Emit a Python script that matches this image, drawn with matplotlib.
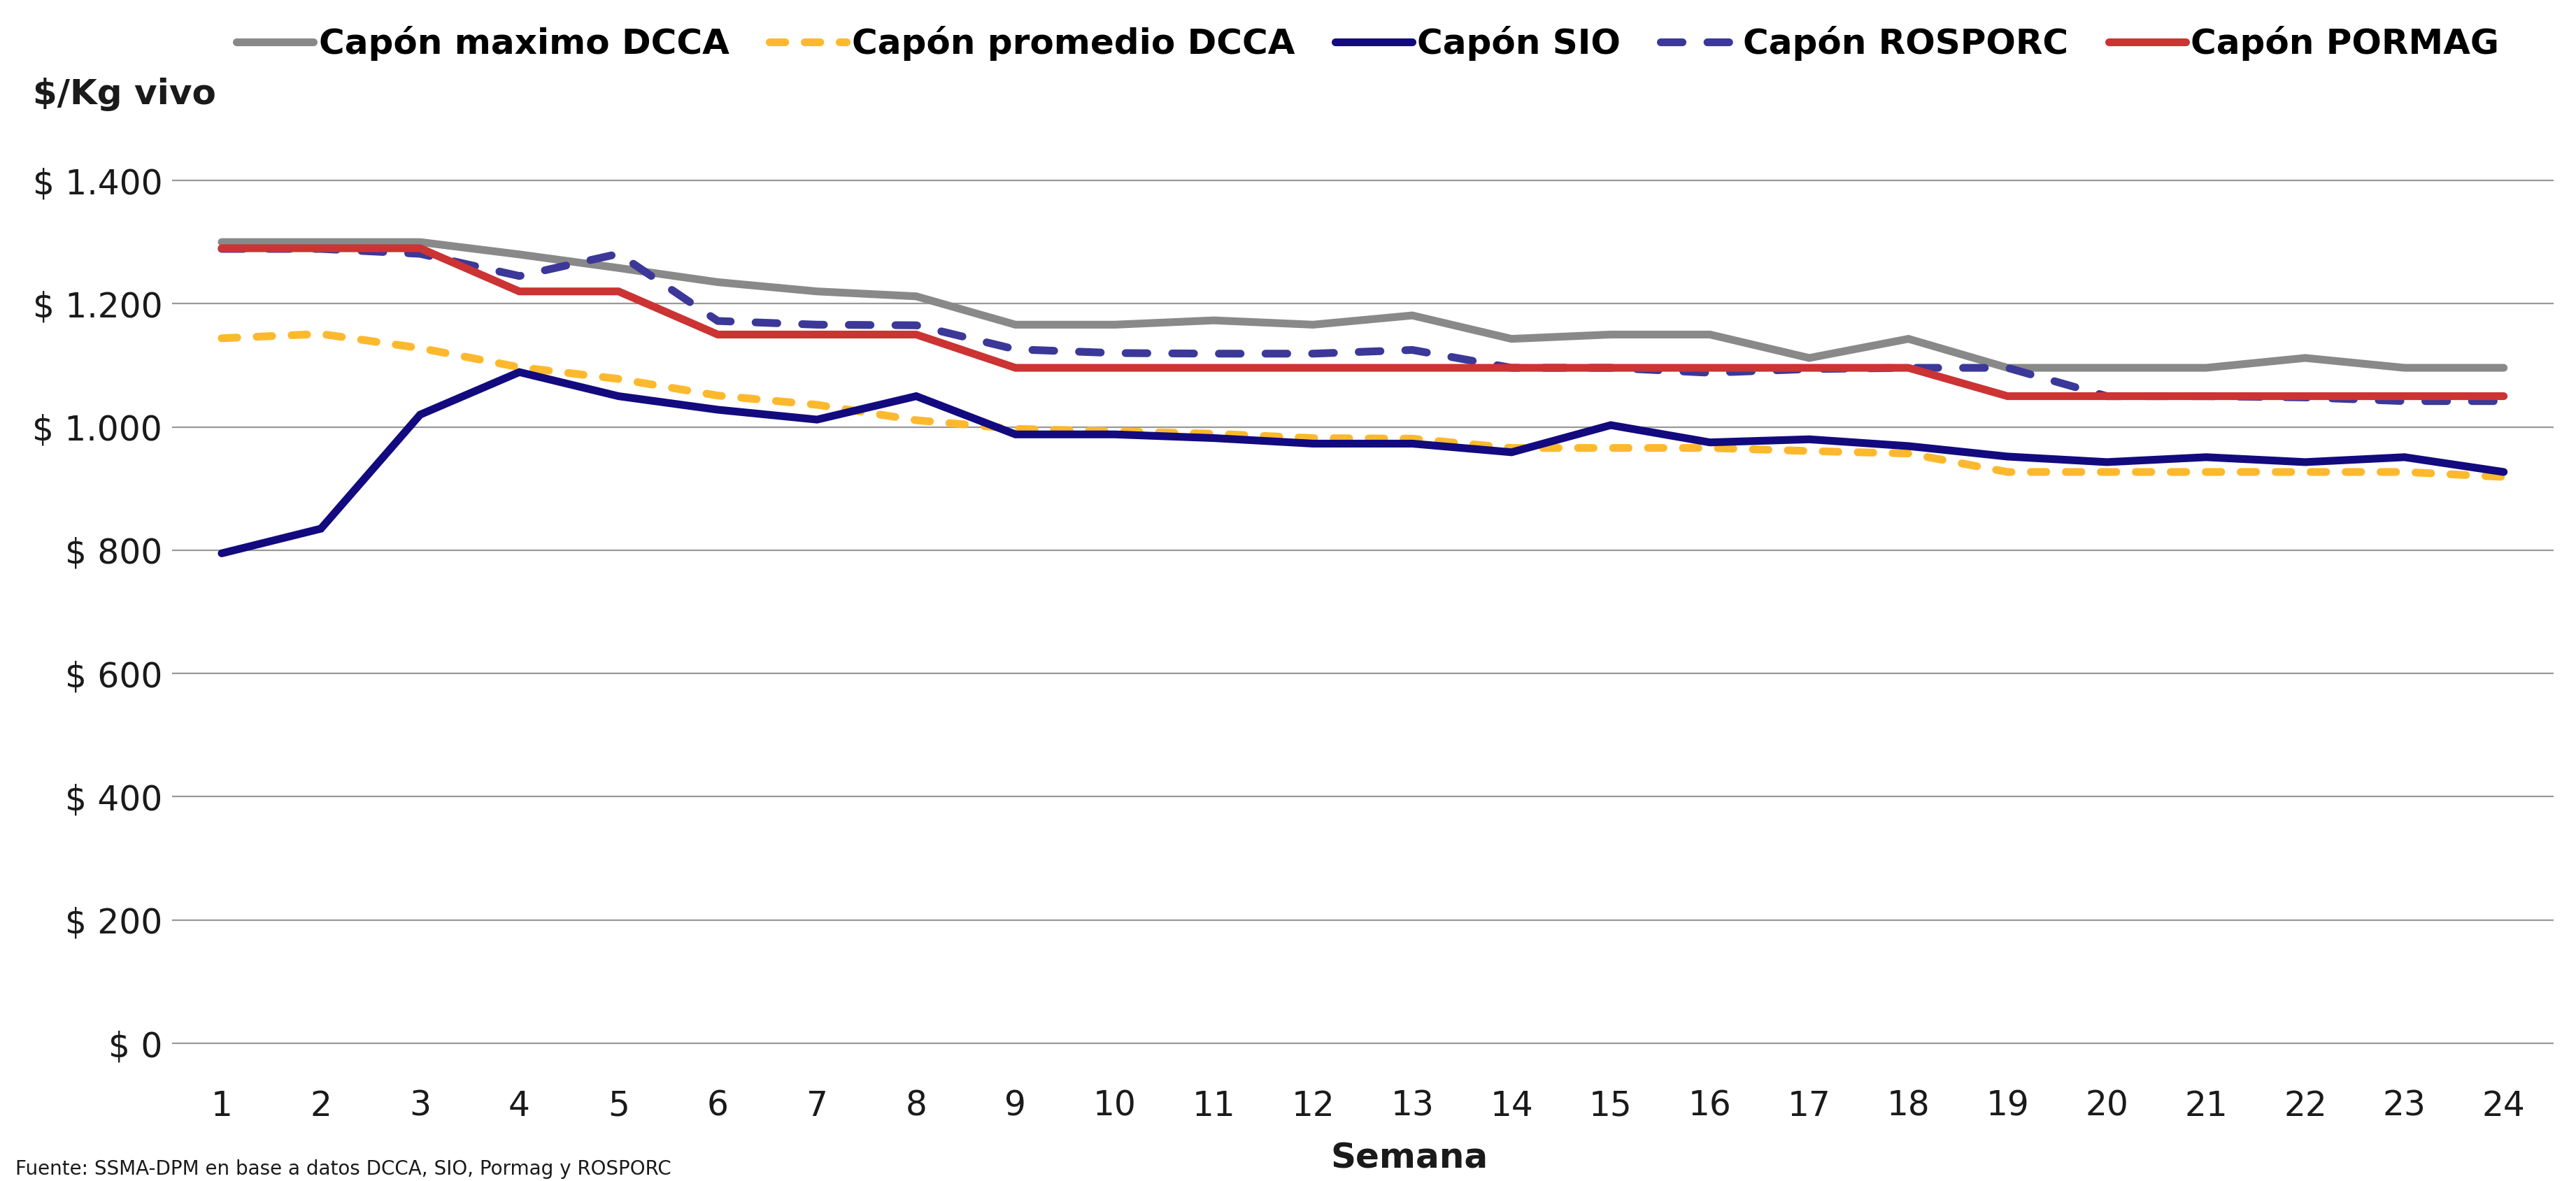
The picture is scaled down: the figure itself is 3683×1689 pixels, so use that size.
import matplotlib.pyplot as plt

# datos semanales ($/Kg vivo)
semanas = list(range(1, 25))
capon_maximo_dcca = [1300, 1300, 1300, 1280, 1258, 1235, 1220, 1212, 1166, 1166, 1173, 1166,
                     1181, 1143, 1150, 1150, 1112, 1143, 1096, 1096, 1096, 1112, 1096, 1096]
capon_promedio_dcca = [1144, 1151, 1128, 1097, 1078, 1051, 1036, 1011, 997, 993, 989, 982,
                       981, 966, 966, 966, 961, 957, 927, 927, 927, 927, 927, 919]
capon_sio = [795, 835, 1020, 1089, 1050, 1028, 1012, 1050, 988, 988, 982, 973,
             973, 959, 1003, 975, 980, 969, 952, 943, 951, 943, 951, 927]
capon_rosporc = [1289, 1289, 1281, 1245, 1281, 1172, 1166, 1165, 1126, 1120, 1119, 1119,
                 1125, 1096, 1096, 1088, 1094, 1096, 1096, 1050, 1050, 1048, 1042, 1042]
capon_pormag = [1290, 1290, 1290, 1220, 1220, 1150, 1150, 1150, 1096, 1096, 1096, 1096,
                1096, 1096, 1096, 1096, 1096, 1096, 1050, 1050, 1050, 1050, 1050, 1050]

y_ticks = [0, 200, 400, 600, 800, 1000, 1200, 1400]
y_labels = ['$ 0', '$ 200', '$ 400', '$ 600', '$ 800', '$ 1.000', '$ 1.200', '$ 1.400']

plt.rcParams['font.family'] = ['DejaVu Sans']

fig = plt.figure(figsize=(36.83, 16.89), dpi=100)
ax = fig.add_axes([0.0668, 0.114, 0.9244, 0.7358])

lw = 8
ax.plot(semanas, capon_maximo_dcca, color='#898989', lw=lw, solid_capstyle='round',
        solid_joinstyle='miter', label='Capón maximo DCCA')
ax.plot(semanas, capon_promedio_dcca, color='#FDB92D', lw=lw, linestyle=(0, (2.0, 2.5)),
        dash_capstyle='round', label='Capón promedio DCCA')
ax.plot(semanas, capon_sio, color='#120A7E', lw=lw, solid_capstyle='round',
        solid_joinstyle='miter', label='Capón SIO')
ax.plot(semanas, capon_rosporc, color='#3B3899', lw=lw, linestyle=(0, (2.8, 3.2)),
        dash_capstyle='round', label='Capón ROSPORC')
ax.plot(semanas, capon_pormag, color='#CC3333', lw=lw, solid_capstyle='round',
        solid_joinstyle='miter', label='Capón PORMAG')

ax.set_xlim(0.5, 24.5)
ax.set_ylim(-5, 1405)
ax.set_xticks(semanas)
ax.set_yticks(y_ticks)
ax.set_yticklabels(y_labels)
ax.tick_params(axis='both', length=0, labelsize=35, colors='#1a1a1a')
ax.tick_params(axis='x', pad=44)
ax.tick_params(axis='y', pad=10)
ax.grid(axis='y', color='#999999', lw=1.6)
ax.set_axisbelow(True)
for s in ax.spines.values():
    s.set_visible(False)

fig.text(0.0128, 0.92, '$/Kg vivo', fontsize=36, fontweight='bold', va='center', ha='left',
         color='#1a1a1a')
fig.text(0.547, 0.0195, 'Semana', fontsize=36, fontweight='bold', va='center', ha='center',
         color='#1a1a1a')
fig.text(0.006, 0.002, 'Fuente: SSMA-DPM en base a datos DCCA, SIO, Pormag y ROSPORC',
         fontsize=20, va='bottom', ha='left', color='#1a1a1a')

fig.legend(loc='center', bbox_to_anchor=(0.531, 0.963), ncol=5, frameon=False,
           handlelength=2.2, handletextpad=0.15, columnspacing=1.15,
           prop={'size': 36, 'weight': 'bold'})

plt.savefig('out.png', dpi=100)
